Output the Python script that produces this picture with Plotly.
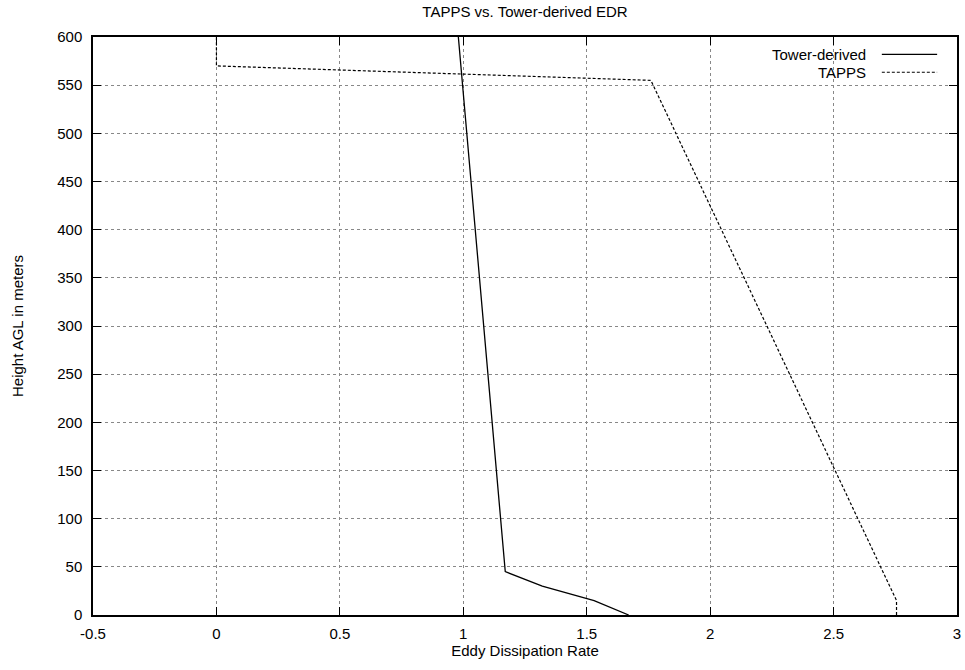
import plotly.graph_objects as go

tower_x = [1.67, 1.53, 1.32, 1.17, 0.98]
tower_y = [0, 15, 30, 45, 600]
tapps_x = [2.755, 2.755, 1.76, 0.0, 0.0]
tapps_y = [0, 15, 555, 570, 600]

x_ticks = [-0.5, 0, 0.5, 1, 1.5, 2, 2.5, 3]
y_ticks = list(range(0, 601, 50))

font = "Liberation Sans, Arial, Helvetica, sans-serif"

fig = go.Figure()
fig.add_trace(go.Scatter(x=tower_x, y=tower_y, mode="lines", name="Tower-derived",
                         line=dict(color="black", width=1.3), showlegend=False))
fig.add_trace(go.Scatter(x=tapps_x, y=tapps_y, mode="lines", name="TAPPS",
                         line=dict(color="black", width=1.2, dash="3px,2px"), showlegend=False))

axis_common = dict(showline=True, linecolor="black", linewidth=1.5, mirror="ticks",
                   ticks="inside", ticklen=8, tickcolor="black", tickwidth=1,
                   showgrid=True, gridcolor="#888888", griddash="dot", gridwidth=1,
                   zeroline=False, automargin=False,
                   tickfont=dict(family=font, size=15, color="black"))

fig.update_xaxes(range=[-0.5, 3], tickvals=x_ticks, ticktext=[str(v) for v in x_ticks],
                 ticklabelstandoff=4,
                 title=dict(text="Eddy Dissipation Rate", font=dict(family=font, size=15, color="black"), standoff=4),
                 **axis_common)
fig.update_yaxes(range=[0, 600], tickvals=y_ticks, ticklabelstandoff=6,
                 title=dict(text="Height AGL in meters", font=dict(family=font, size=15, color="black"), standoff=30),
                 **axis_common)

# legend drawn gnuplot-style (text then sample)
legend_items = [("Tower-derived", "solid"), ("TAPPS", "3px,2px")]
for i, (name, dash) in enumerate(legend_items):
    yy = 0.970 - i * 0.031
    fig.add_annotation(xref="paper", yref="paper", x=0.897, y=yy, text=name, showarrow=False,
                       xanchor="right", yanchor="middle", font=dict(family=font, size=15, color="black"))
    fig.add_shape(type="line", xref="paper", yref="paper", x0=0.913, x1=0.977, y0=yy, y1=yy,
                  line=dict(color="black", width=1.2, dash=dash))

fig.update_layout(
    width=965, height=670,
    margin=dict(l=93, r=8, t=37, b=55),
    paper_bgcolor="white", plot_bgcolor="white",
    title=dict(text="TAPPS vs. Tower-derived EDR", x=0.5, xref="paper", y=0.982, yanchor="middle",
               font=dict(family=font, size=15, color="black")),
    font=dict(family=font, size=15, color="black"),
)

fig.write_html("out.html")
